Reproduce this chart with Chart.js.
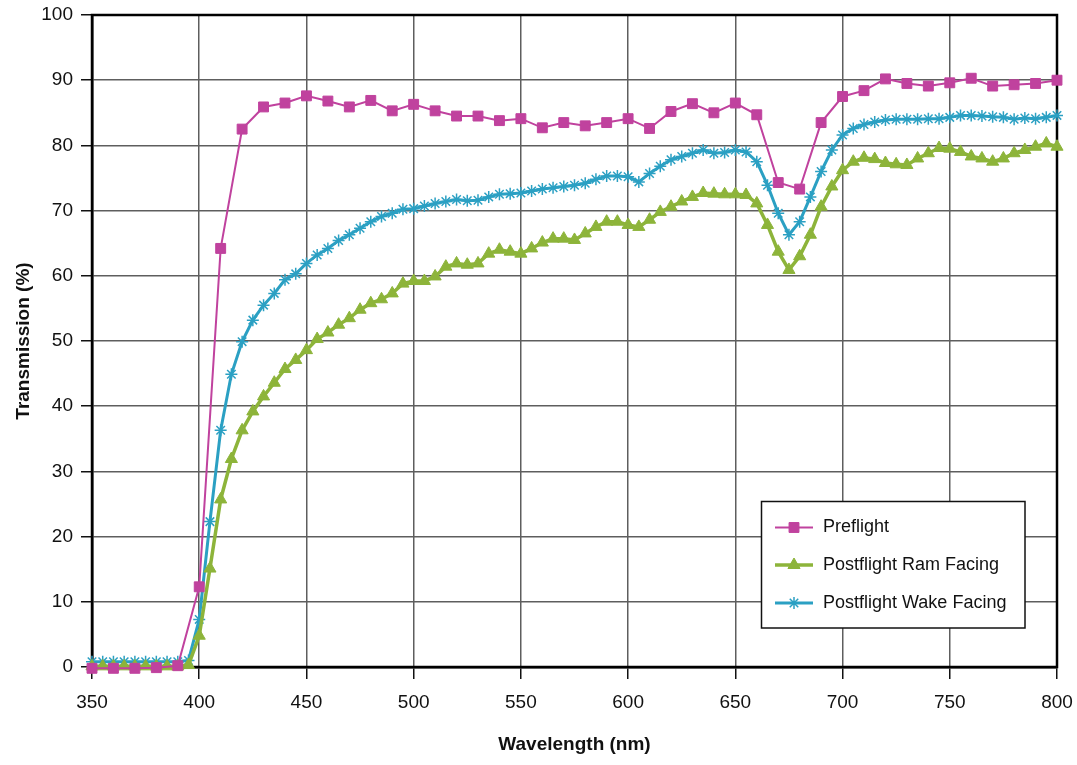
<!DOCTYPE html>
<html>
<head>
<meta charset="utf-8">
<script src="https://cdn.jsdelivr.net/npm/chart.js@4/dist/chart.umd.min.js"></script>
<style>
  html, body { margin: 0; padding: 0; background: #fff; }
  #wrap { width: 1077px; height: 765px; position: relative; }
</style>
</head>
<body>
<div id="wrap"><canvas id="chart"></canvas></div>
<script>
// wavelengths (nm)
var wl10 = [350,360,370,380,390,400,410,420,430,440,450,460,470,480,490,500,510,520,530,540,550,560,570,580,590,600,610,620,630,640,650,660,670,680,690,700,710,720,730,740,750,760,770,780,790,800];
var wl5 = [350,355,360,365,370,375,380,385,390,395,400,405,410,415,420,425,430,435,440,445,450,455,460,465,470,475,480,485,490,495,500,505,510,515,520,525,530,535,540,545,550,555,560,565,570,575,580,585,590,595,600,605,610,615,620,625,630,635,640,645,650,655,660,665,670,675,680,685,690,695,700,705,710,715,720,725,730,735,740,745,750,755,760,765,770,775,780,785,790,795,800];

// transmission (%)
var preflight = [-0.2,-0.2,-0.2,-0.1,0.2,
  12.3,64.2,82.5,85.9,86.5,87.6,86.8,85.9,86.9,85.3,
  86.3,85.3,84.5,84.5,83.8,84.1,82.7,83.5,83.0,83.5,
  84.1,82.6,85.2,86.4,85.0,86.5,84.7,74.3,73.3,83.5,
  87.5,88.4,90.2,89.5,89.1,89.6,90.3,89.1,89.3,89.5,90.0];

var ramFacing = [0.1,0.1,0.1,0.1,0.1,0.1,0.1,0.1,0.1,0.3,
  4.8,15.1,25.7,31.9,36.3,39.2,41.5,43.6,45.7,47.1,
  48.6,50.3,51.3,52.5,53.5,54.8,55.8,56.4,57.3,58.8,
  59.2,59.2,59.9,61.4,61.9,61.7,61.9,63.4,64.0,63.7,
  63.4,64.2,65.1,65.7,65.7,65.5,66.5,67.5,68.3,68.3,
  67.8,67.5,68.6,69.8,70.6,71.4,72.1,72.7,72.6,72.5,
  72.5,72.4,71.1,67.8,63.7,60.9,63.0,66.3,70.6,73.7,
  76.2,77.5,78.1,77.9,77.3,77.1,77.0,78.0,78.8,79.6,
  79.5,79.0,78.3,78.0,77.5,78.0,78.8,79.3,79.8,80.3,
  79.8];

var wakeFacing = [0.8,0.8,0.8,0.8,0.8,0.8,0.8,0.8,0.8,1.0,
  7.3,22.3,36.3,44.9,49.9,53.2,55.5,57.3,59.4,60.3,
  61.9,63.2,64.2,65.4,66.3,67.3,68.3,69.1,69.6,70.2,
  70.3,70.7,71.1,71.4,71.7,71.5,71.6,72.1,72.5,72.6,
  72.7,73.0,73.3,73.5,73.7,73.9,74.2,74.8,75.3,75.3,
  75.2,74.4,75.7,76.8,77.8,78.3,78.8,79.3,78.8,78.9,
  79.3,79.0,77.5,73.9,69.6,66.3,68.3,72.1,76.0,79.3,
  81.6,82.6,83.2,83.6,83.9,84.0,84.0,84.0,84.1,84.1,
  84.3,84.6,84.6,84.5,84.4,84.3,84.0,84.2,84.1,84.3,
  84.6];

var seriesNames = ["Preflight", "Postflight Ram Facing", "Postflight Wake Facing"];

var FONT = "'Liberation Sans', Arial, sans-serif";
var PINK = "#c0429e";
var GREEN = "#8db43a";
var BLUE = "#2ba0c3";

function pts(xs, ys) {
  return xs.map(function (x, i) { return { x: x, y: ys[i] }; });
}

// black frame round the plot area
var frame = {
  id: "frame",
  beforeDatasetsDraw: function (chart) {
    var a = chart.chartArea, ctx = chart.ctx;
    ctx.save();
    ctx.strokeStyle = "#000";
    ctx.lineWidth = 2.5;
    ctx.strokeRect(a.left, a.top, a.right - a.left, a.bottom - a.top);
    ctx.restore();
  }
};

// legend box inside the plot, lower right
var boxLegend = {
  id: "boxLegend",
  afterDraw: function (chart) {
    var ctx = chart.ctx;
    var x0 = 761.5, y0 = 501.5, w = 263.5, h = 126.5;
    ctx.save();
    ctx.fillStyle = "#fff";
    ctx.fillRect(x0, y0, w, h);
    ctx.strokeStyle = "#111";
    ctx.lineWidth = 1.5;
    ctx.strokeRect(x0, y0, w, h);
    var rows = [527.5, 565, 603];
    chart.data.datasets.forEach(function (ds, i) {
      var y = rows[i];
      ctx.strokeStyle = ds.borderColor;
      ctx.lineWidth = ds.borderWidth;
      ctx.beginPath();
      ctx.moveTo(775, y);
      ctx.lineTo(813, y);
      ctx.stroke();
      ctx.fillStyle = ds.pointBackgroundColor;
      ctx.strokeStyle = ds.pointBorderColor;
      ctx.lineWidth = ds.pointBorderWidth;
      Chart.helpers.drawPoint(ctx, { pointStyle: ds.pointStyle, radius: ds.pointRadius, borderWidth: ds.pointBorderWidth, rotation: 0 }, 794, y);
      ctx.fillStyle = "#111";
      ctx.font = "18px " + FONT;
      ctx.textBaseline = "middle";
      ctx.textAlign = "left";
      ctx.fillText(ds.label, 823, y);
    });
    ctx.restore();
  }
};

new Chart(document.getElementById("chart"), {
  type: "line",
  data: {
    datasets: [{
      label: seriesNames[0],
      data: pts(wl10, preflight),
      borderColor: PINK,
      borderWidth: 2,
      pointStyle: "rect",
      pointRadius: 7,
      pointBackgroundColor: PINK,
      pointBorderColor: PINK,
      pointBorderWidth: 1,
      clip: false
    }, {
      label: seriesNames[1],
      data: pts(wl5, ramFacing),
      borderColor: GREEN,
      borderWidth: 3.5,
      pointStyle: "triangle",
      pointRadius: 7,
      pointBackgroundColor: GREEN,
      pointBorderColor: GREEN,
      pointBorderWidth: 1,
      clip: false
    }, {
      label: seriesNames[2],
      data: pts(wl5, wakeFacing),
      borderColor: BLUE,
      borderWidth: 3,
      pointStyle: "star",
      pointRadius: 6,
      pointBackgroundColor: BLUE,
      pointBorderColor: BLUE,
      pointBorderWidth: 1.5,
      clip: false
    }]
  },
  options: {
    responsive: true,
    maintainAspectRatio: false,
    animation: false,
    layout: { padding: { top: 15, right: 20, left: 0, bottom: 0 } },
    plugins: {
      legend: { display: false },
      tooltip: { enabled: false }
    },
    elements: { line: { tension: 0 } },
    scales: {
      x: {
        type: "linear",
        min: 350,
        max: 800,
        ticks: { stepSize: 50, color: "#111", font: { family: FONT, size: 19 }, padding: 12, maxRotation: 0 },
        grid: { color: "#5e5e5e", lineWidth: 1.5, tickLength: 12, tickColor: "#111", tickWidth: 1.5 },
        border: { display: true, color: "#000", width: 2.5 },
        title: { display: true, text: "Wavelength (nm)", color: "#111", font: { family: FONT, size: 19, weight: "bold" }, padding: { top: 4, bottom: 9 } },
        afterFit: function (s) { s.height = 98; s.paddingLeft = 0; s.paddingRight = 0; }
      },
      y: {
        min: 0,
        max: 100,
        ticks: { stepSize: 10, color: "#111", font: { family: FONT, size: 19 }, padding: 8 },
        grid: { color: "#5e5e5e", lineWidth: 1.5, tickLength: 11, tickColor: "#111", tickWidth: 1.5 },
        border: { display: true, color: "#000", width: 2.5 },
        title: { display: true, text: "Transmission (%)", color: "#111", font: { family: FONT, size: 19, weight: "bold" }, padding: { top: 12, bottom: 0 } },
        afterFit: function (s) { s.width = 92; s.paddingTop = 0; s.paddingBottom = 0; }
      }
    }
  },
  plugins: [frame, boxLegend]
});
</script>
</body>
</html>
